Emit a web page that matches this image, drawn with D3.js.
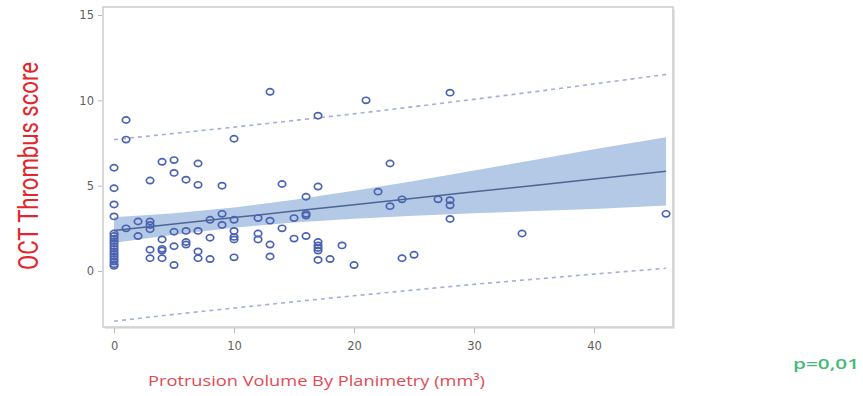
<!DOCTYPE html>
<html>
<head>
<meta charset="utf-8">
<script src="https://cdn.jsdelivr.net/npm/d3@7"></script>
<style>
  body { margin: 0; background: #fff; }
  svg { display: block; }
</style>
</head>
<body>
<div id="chart"></div>
<script>
// scatter: protrusion volume (mm3) vs OCT thrombus score
const protrusion = [
  0, 0, 0, 0, 0, 0, 0, 0, 0, 0, 0, 0, 0, 0, 0, 0, 0, 0,
  1, 1, 1,
  2, 2,
  3, 3, 3, 3, 3, 3,
  4, 4, 4, 4, 4,
  5, 5, 5, 5, 5,
  6, 6, 6, 6,
  7, 7, 7, 7, 7,
  8, 8, 8,
  9, 9, 9,
  10, 10, 10, 10, 10, 10,
  12, 12, 12,
  13, 13, 13, 13,
  14, 14,
  15, 15,
  16, 16, 16, 16,
  17, 17, 17, 17, 17, 17, 17,
  18, 19, 20, 21, 22,
  23, 23,
  24, 24,
  25, 27,
  28, 28, 28, 28,
  34, 46
];
const thrombus = [
  6.05, 4.85, 3.9, 3.2, 2.2, 2.05, 1.9, 1.75, 1.6, 1.45, 1.3, 1.15, 1.0, 0.85, 0.7, 0.55, 0.4, 0.3,
  8.85, 7.7, 2.5,
  2.9, 2.05,
  5.3, 2.9, 2.7, 2.45, 1.25, 0.75,
  6.4, 1.85, 1.3, 1.2, 0.75,
  6.5, 5.75, 2.3, 1.45, 0.35,
  5.35, 2.35, 1.7, 1.55,
  6.3, 5.05, 2.35, 1.15, 0.75,
  3.0, 1.95, 0.7,
  5.0, 3.35, 2.7,
  7.75, 3.0, 2.35, 2.0, 1.85, 0.8,
  3.1, 2.2, 1.85,
  10.5, 2.95, 1.55, 0.85,
  5.1, 2.5,
  3.1, 1.9,
  4.35, 3.35, 3.25, 2.05,
  9.1, 4.95, 1.7, 1.5, 1.35, 1.2, 0.65,
  0.7, 1.5, 0.35, 10.0, 4.65,
  6.3, 3.8,
  4.2, 0.75,
  0.95, 4.2,
  10.45, 4.15, 3.85, 3.05,
  2.2, 3.35
];

// fit line, confidence band and prediction limits
const fitX      = [0, 5, 10, 15, 20, 25, 30, 35, 40, 46];
const fitY      = [2.38, 2.76, 3.13, 3.51, 3.88, 4.26, 4.64, 5.01, 5.39, 5.84];
const clmUpper  = [3.15, 3.39, 3.72, 4.17, 4.70, 5.28, 5.89, 6.51, 7.14, 7.84];
const clmLower  = [1.65, 2.13, 2.54, 2.85, 3.06, 3.24, 3.39, 3.51, 3.64, 3.84];
const predUpper = [7.70, 8.06, 8.43, 8.82, 9.21, 9.63, 10.06, 10.50, 10.96, 11.52];
const predLower = [-2.94, -2.54, -2.17, -1.80, -1.45, -1.11, -0.78, -0.48, -0.18, 0.16];

const xTicks = [0, 10, 20, 30, 40];
const yTicks = [0, 5, 10, 15];

const W = 863, H = 396;
const plot = { left: 103, right: 673, top: 7, bottom: 327 };

const svg = d3.select("#chart").append("svg")
  .attr("width", W)
  .attr("height", H);

const x = d3.scaleLinear()
  .domain([-0.92, 46.58])
  .range([plot.left, plot.right]);

const y = d3.scaleLinear()
  .domain([-3.28, 15.47])
  .range([plot.bottom, plot.top]);

// faint shadow on the right of the frame
svg.append("rect")
  .attr("x", plot.left + 2)
  .attr("y", plot.top + 2)
  .attr("width", plot.right - plot.left)
  .attr("height", plot.bottom - plot.top)
  .attr("fill", "#e6e6e6");

// frame
svg.append("rect")
  .attr("x", plot.left)
  .attr("y", plot.top)
  .attr("width", plot.right - plot.left)
  .attr("height", plot.bottom - plot.top)
  .attr("fill", "#fff")
  .attr("stroke", "#cfcfcf")
  .attr("stroke-width", 1.6);

// confidence band
const band = fitX.map((v, i) => ({ x: v, lo: clmLower[i], hi: clmUpper[i] }));
svg.append("path")
  .datum(band)
  .attr("fill", "#b3c9e6")
  .attr("d", d3.area()
    .x(d => x(d.x))
    .y0(d => y(d.lo))
    .y1(d => y(d.hi)));

// fit line
svg.append("path")
  .datum(fitX.map((v, i) => [v, fitY[i]]))
  .attr("fill", "none")
  .attr("stroke", "#4d6595")
  .attr("stroke-width", 1.5)
  .attr("d", d3.line().x(d => x(d[0])).y(d => y(d[1])));

// prediction limits
[predUpper, predLower].forEach(arr => {
  svg.append("path")
    .datum(fitX.map((v, i) => [v, arr[i]]))
    .attr("fill", "none")
    .attr("stroke", "#a3aedb")
    .attr("stroke-width", 1.6)
    .attr("stroke-dasharray", "4,4")
    .attr("d", d3.line().x(d => x(d[0])).y(d => y(d[1])));
});

// points (slightly flattened rings like the original)
svg.append("g")
  .selectAll("ellipse")
  .data(protrusion.map((v, i) => [v, thrombus[i]]))
  .enter().append("ellipse")
  .attr("cx", d => x(d[0]))
  .attr("cy", d => y(d[1]))
  .attr("rx", 3.7)
  .attr("ry", 3.1)
  .attr("fill", "none")
  .attr("stroke", "#4a62b0")
  .attr("stroke-width", 1.7);

// axes
const xAxis = svg.append("g")
  .attr("transform", `translate(0,${plot.bottom + 1})`)
  .call(d3.axisBottom(x).tickValues(xTicks).tickSize(5).tickPadding(9));
const yAxis = svg.append("g")
  .attr("transform", `translate(${plot.left - 1},0)`)
  .call(d3.axisLeft(y).tickValues(yTicks).tickSize(4).tickPadding(4));

[xAxis, yAxis].forEach(g => {
  g.select(".domain").remove();
  g.selectAll(".tick line").attr("stroke", "#b8b8b8");
  g.selectAll(".tick text")
    .attr("fill", "#606060")
    .style("font-family", "DejaVu Sans, sans-serif")
    .style("font-size", "11.5px");
});

// titles
svg.append("text")
  .attr("transform", "translate(38,166) rotate(-90)")
  .attr("text-anchor", "middle")
  .attr("fill", "#e3262d")
  .attr("textLength", 208)
  .attr("lengthAdjust", "spacingAndGlyphs")
  .style("font-family", "Liberation Sans Narrow, Roboto, sans-serif")
  .style("font-size", "27px")
  .text("OCT Thrombus score");

svg.append("text")
  .attr("x", 148)
  .attr("y", 386)
  .attr("fill", "#e34a52")
  .attr("textLength", 337)
  .attr("lengthAdjust", "spacingAndGlyphs")
  .style("font-family", "Open Sans, sans-serif")
  .style("font-size", "14.5px")
  .text("Protrusion Volume By Planimetry (mm³)");

svg.append("text")
  .attr("x", 793)
  .attr("y", 369)
  .attr("fill", "#46b97c")
  .attr("textLength", 66)
  .attr("lengthAdjust", "spacingAndGlyphs")
  .style("font-family", "Open Sans, sans-serif")
  .style("font-size", "15px")
  .style("font-weight", "600")
  .text("p=0,01");
</script>
</body>
</html>
